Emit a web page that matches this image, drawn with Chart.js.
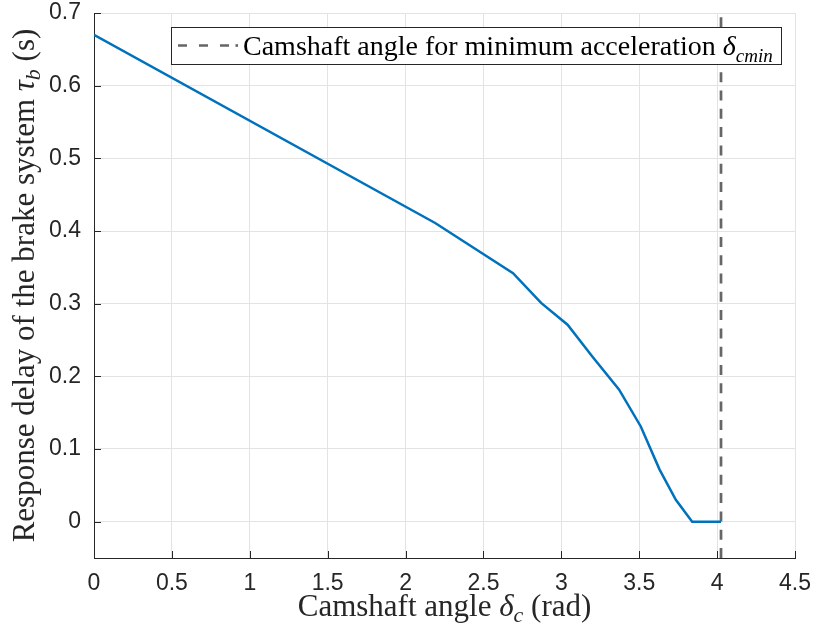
<!DOCTYPE html>
<html lang="en">
<head>
<meta charset="UTF-8">
<title>Brake response delay</title>
<script src="https://cdn.jsdelivr.net/npm/chart.js@4.4.1/dist/chart.umd.min.js"></script>
<style>
  body { margin: 0; background: #fff; }
  #wrap { width: 815px; height: 637px; }
</style>
</head>
<body>
<div id="wrap"><canvas id="chart" width="815" height="637"></canvas></div>
<script>
// data
const angle = [0, 2.19, 2.69, 2.87, 3.04, 3.20, 3.37, 3.51, 3.63, 3.735, 3.84, 4.025];
const delay = [0.67, 0.411, 0.342, 0.301, 0.271, 0.227, 0.182, 0.131, 0.072, 0.030, 0, 0];
const minAccAngle = [4.025, 4.025];
const minAccSpan = [-0.05, 0.7];
const xTicks = [0, 0.5, 1, 1.5, 2, 2.5, 3, 3.5, 4, 4.5];
const yTicks = [0, 0.1, 0.2, 0.3, 0.4, 0.5, 0.6, 0.7];

const serif = '"Liberation Serif", "DejaVu Serif", serif';
const axisColor = '#262626';

// draws a run of text pieces, some italic or subscript
function richWidth(ctx, parts) {
    let w = 0;
    parts.forEach(p => { ctx.font = p.font; w += ctx.measureText(p.t).width; });
    return w;
}
function drawRich(ctx, parts, x, y) {
    parts.forEach(p => {
        ctx.font = p.font;
        ctx.fillText(p.t, x, y + (p.dy || 0));
        x += ctx.measureText(p.t).width;
    });
}

const size = 31, sub = 22;
const xTitle = [
    { t: 'Camshaft angle ', font: size + 'px ' + serif },
    { t: 'δ', font: 'italic ' + size + 'px ' + serif },
    { t: 'c', font: 'italic ' + sub + 'px ' + serif, dy: 6 },
    { t: ' (rad)', font: size + 'px ' + serif }
];
const yTitle = [
    { t: 'Response delay of the brake system ', font: size + 'px ' + serif },
    { t: 'τ', font: 'italic ' + size + 'px ' + serif },
    { t: 'b', font: 'italic ' + sub + 'px ' + serif, dy: 6 },
    { t: ' (s)', font: size + 'px ' + serif }
];
const legendText = [
    { t: 'Camshaft angle for minimum acceleration ', font: '28px ' + serif },
    { t: 'δ', font: 'italic 28px ' + serif },
    { t: 'cmin', font: 'italic 19px ' + serif, dy: 7 }
];

const figureText = {
    id: 'figureText',
    afterDatasetsDraw(chart) {
        const { ctx, chartArea: a } = chart;
        ctx.save();
        // inward tick marks
        ctx.strokeStyle = axisColor;
        ctx.lineWidth = 1;
        ctx.beginPath();
        xTicks.forEach(v => {
            const px = Math.round(chart.scales.x.getPixelForValue(v)) + 0.5;
            ctx.moveTo(px, a.bottom); ctx.lineTo(px, a.bottom - 7);
        });
        yTicks.forEach(v => {
            const py = Math.round(chart.scales.y.getPixelForValue(v)) + 0.5;
            ctx.moveTo(a.left, py); ctx.lineTo(a.left + 7, py);
        });
        ctx.stroke();

        // legend box
        const bx = 171, by = 27, bw = 610, bh = 37;
        ctx.fillStyle = '#fff';
        ctx.fillRect(bx, by, bw, bh);
        ctx.strokeStyle = axisColor;
        ctx.strokeRect(bx + 0.5, by + 0.5, bw, bh);
        ctx.strokeStyle = '#666666';
        ctx.lineWidth = 2.7;
        ctx.setLineDash([9, 12]);
        ctx.beginPath();
        ctx.moveTo(178, by + bh / 2); ctx.lineTo(231, by + bh / 2);
        ctx.stroke();
        ctx.setLineDash([]);
        ctx.beginPath();
        ctx.moveTo(235.5, by + bh / 2); ctx.lineTo(238, by + bh / 2);
        ctx.stroke();
        ctx.fillStyle = '#000';
        ctx.textBaseline = 'alphabetic';
        drawRich(ctx, legendText, 243, by + 28);

        // axis titles
        ctx.fillStyle = '#262626';
        const cx = (a.left + a.right) / 2;
        drawRich(ctx, xTitle, cx - richWidth(ctx, xTitle) / 2, 616);
        ctx.translate(34, (a.top + a.bottom) / 2);
        ctx.rotate(-Math.PI / 2);
        drawRich(ctx, yTitle, -richWidth(ctx, yTitle) / 2, 0);
        ctx.restore();
    }
};

const tickFont = { family: '"Liberation Sans", Arial, sans-serif', size: 23 };
const noPad = s => { s.paddingTop = 0; s.paddingBottom = 0; s.paddingLeft = 0; s.paddingRight = 0; };

new Chart(document.getElementById('chart'), {
    type: 'line',
    data: {
        datasets: [{
            data: angle.map((v, i) => ({ x: v, y: delay[i] })),
            borderColor: '#0072BD',
            borderWidth: 2.5,
            pointRadius: 0,
            tension: 0
        }, {
            data: minAccAngle.map((v, i) => ({ x: v, y: minAccSpan[i] })),
            borderColor: '#666666',
            borderWidth: 2.7,
            borderDash: [10, 8.3],
            pointRadius: 0
        }]
    },
    options: {
        responsive: false,
        animation: false,
        layout: { padding: { left: 0, top: 13, right: 20, bottom: 0 } },
        plugins: { legend: { display: false }, tooltip: { enabled: false } },
        scales: {
            x: {
                type: 'linear', min: 0, max: 4.5,
                afterBuildTicks: s => { s.ticks = xTicks.map(v => ({ value: v })); },
                afterFit: s => { s.height = 79; noPad(s); },
                ticks: { font: tickFont, color: axisColor, padding: 12, maxRotation: 0,
                         callback: v => String(+v.toFixed(2)) },
                grid: { color: '#e3e3e3', drawTicks: false },
                border: { color: axisColor }
            },
            y: {
                type: 'linear', min: -0.05, max: 0.7,
                afterBuildTicks: s => { s.ticks = yTicks.map(v => ({ value: v })); },
                afterFit: s => { s.width = 94; noPad(s); },
                ticks: { font: tickFont, color: axisColor, padding: 13,
                         callback: v => String(+v.toFixed(2)) },
                grid: { color: '#e3e3e3', drawTicks: false },
                border: { color: axisColor }
            }
        }
    },
    plugins: [figureText]
});
</script>
</body>
</html>
